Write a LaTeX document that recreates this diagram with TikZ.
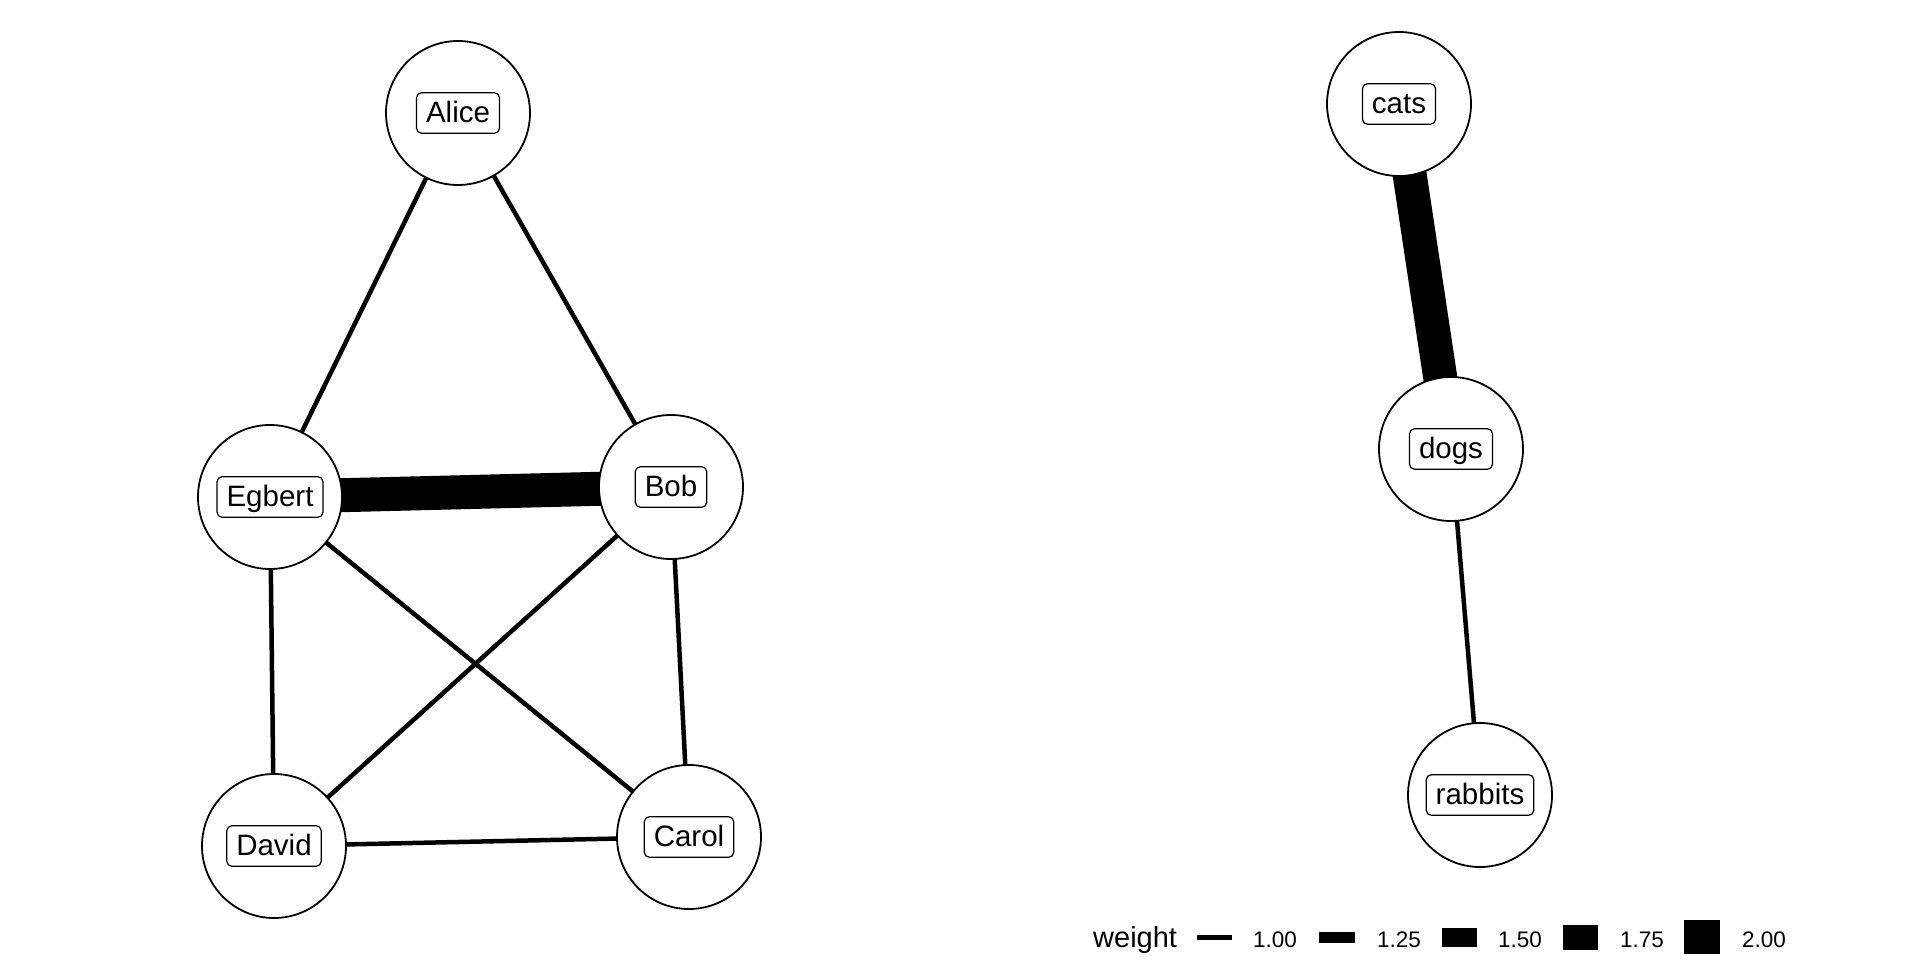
\documentclass[tikz,border=0pt]{standalone}
\usepackage{fontspec}
\setmainfont{Liberation Sans}
\usetikzlibrary{backgrounds}
\begin{document}
\begin{tikzpicture}[x=1pt,y=-1pt,
  vert/.style={circle,draw=black,fill=white,line width=1.8pt,minimum size=144pt,inner sep=0pt},
  lbl/.style={draw=black,fill=white,line width=1.2pt,rounded corners=5pt,
    font=\fontsize{29.5}{30}\selectfont,inner xsep=9.5pt,inner ysep=0pt,
    text height=26pt,text depth=6.5pt,minimum height=40.5pt},
  thin/.style={line width=4.5pt},
  thick/.style={line width=34pt},
  legtitle/.style={font=\fontsize{29}{30}\selectfont,anchor=base west,inner sep=0pt},
  legtext/.style={font=\fontsize{22.5}{24}\selectfont,anchor=base west,inner sep=0pt}]
\useasboundingbox (0,0) rectangle (1920,960);

% vertices of the first component
\node[vert] (alice)  at (458,113) {};
\node[vert] (egbert) at (270,497) {};
\node[vert] (bob)    at (671,487) {};
\node[vert] (david)  at (274,846) {};
\node[vert] (carol)  at (689,837) {};
% vertices of the second component
\node[vert] (cats)    at (1399,104) {};
\node[vert] (dogs)    at (1451,449) {};
\node[vert] (rabbits) at (1480,795) {};

% labels
\node[lbl] (alice-l)   at (alice)   {Alice};
\node[lbl] (egbert-l)  at (egbert)  {Egbert};
\node[lbl] (bob-l)     at (bob)     {Bob};
\node[lbl] (david-l)   at (david)   {David};
\node[lbl] (carol-l)   at (carol)   {Carol};
\node[lbl] (cats-l)    at (cats)    {cats};
\node[lbl] (dogs-l)    at (dogs)    {dogs};
\node[lbl] (rabbits-l) at (rabbits) {rabbits};

% white page and edges, drawn beneath the vertices
\begin{scope}[on background layer]
  \fill[white] (0,0) rectangle (1920,960);
  \draw[thin]  (alice.center)  -- (egbert.center);
  \draw[thin]  (alice.center)  -- (bob.center);
  \draw[thick] (egbert.center) -- (bob.center);
  \draw[thin]  (egbert.center) -- (david.center);
  \draw[thin]  (egbert.center) -- (carol.center);
  \draw[thin]  (bob.center)    -- (david.center);
  \draw[thin]  (bob.center)    -- (carol.center);
  \draw[thin]  (david.center)  -- (carol.center);
  \draw[thick] (cats.center)   -- (dogs.center);
  \draw[thin]  (dogs.center)   -- (rabbits.center);
\end{scope}

% legend for the edge weight
\node[legtitle] (legt) at (1093,947) {weight};
\coordinate (k1a) at (1197,937.5); \coordinate (k1b) at (1232,937.5);
\draw[line width=4.5pt] (k1a) -- (k1b);
\node[legtext] (l1) at (1253,947) {1.00};
\fill (1319,932) rectangle (1355,943);
\node[legtext] (l2) at (1377,947) {1.25};
\fill (1442,928) rectangle (1477,947);
\node[legtext] (l3) at (1498,947) {1.50};
\fill (1563,924.5) rectangle (1598,949.5);
\node[legtext] (l4) at (1620,947) {1.75};
\fill (1684,920) rectangle (1720,954);
\node[legtext] (l5) at (1742,947) {2.00};
\end{tikzpicture}
\end{document}
